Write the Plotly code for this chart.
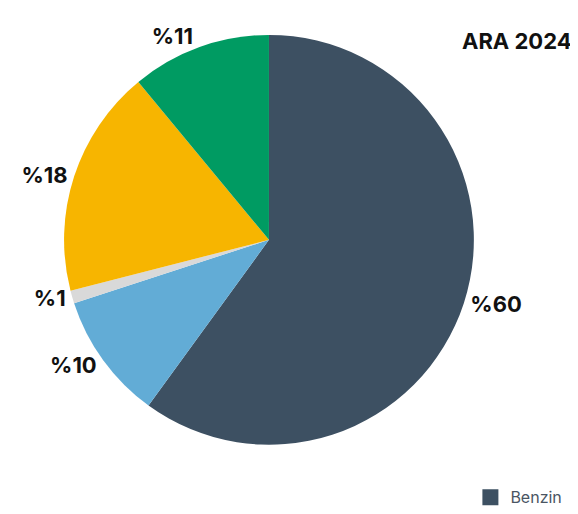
import plotly.graph_objects as go

labels = ["Benzin", "Motorin", "LPG", "Fuel Oil", "Diğer"]
values = [60, 10, 1, 18, 11]
text_labels = ["%60", "%10", "%1", "%18", "%11"]
colors = ["#3d5062", "#62acd6", "#d9d9d9", "#f7b500", "#009b62"]

fig = go.Figure()

fig.add_trace(
    go.Pie(
        labels=labels,
        values=values,
        text=text_labels,
        texttemplate="%{text}",
        textposition="outside",
        sort=False,
        direction="clockwise",
        rotation=0,
        marker=dict(colors=colors, line=dict(width=0)),
        outsidetextfont=dict(family="Inter", size=22, color="#111111", weight="bold"),
        showlegend=False,
        domain=dict(x=[0.097, 0.806], y=[0.150, 0.948]),
        hoverinfo="label+percent",
    )
)

# Legend-only entry for the first series
fig.add_trace(
    go.Scatter(
        x=[None],
        y=[None],
        mode="markers",
        name=labels[0],
        marker=dict(symbol="square", size=22, color=colors[0]),
        showlegend=True,
    )
)

fig.update_layout(
    width=578,
    height=514,
    margin=dict(l=0, r=0, t=0, b=0),
    paper_bgcolor="white",
    plot_bgcolor="white",
    xaxis=dict(visible=False),
    yaxis=dict(visible=False),
    legend=dict(
        x=0.80,
        y=0.015,
        xanchor="left",
        yanchor="bottom",
        font=dict(family="Inter", size=16, color="#4a5563"),
        bgcolor="rgba(0,0,0,0)",
    ),
    annotations=[
        dict(
            text="ARA 2024",
            x=0.782,
            y=0.935,
            xref="paper",
            yref="paper",
            xanchor="left",
            yanchor="middle",
            showarrow=False,
            font=dict(family="Inter", size=22, color="#111111", weight="bold"),
        )
    ],
)

fig.write_html("out.html")
